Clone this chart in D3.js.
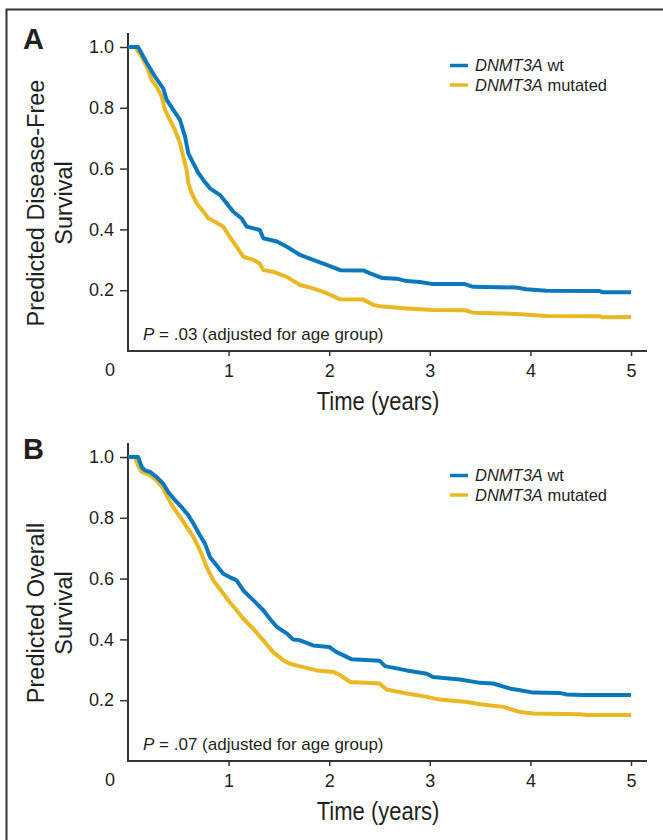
<!DOCTYPE html>
<html>
<head>
<meta charset="utf-8">
<script src="https://cdn.jsdelivr.net/npm/d3@7"></script>
<style>
  body { margin: 0; background: #fff; }
  svg text { font-family: "Liberation Sans", Arial, Helvetica, sans-serif; fill: #231f20; }
</style>
</head>
<body>
<script>
// time (years) / predicted survival
const dfsWtTime = [0, 0.10, 0.19, 0.27, 0.35, 0.385, 0.45, 0.517, 0.567, 0.60, 0.65, 0.70, 0.75, 0.815, 0.915, 0.98, 1.047, 1.13, 1.18, 1.31, 1.345, 1.48, 1.58, 1.71, 1.84, 1.975, 2.11, 2.34, 2.40, 2.53, 2.67, 2.77, 2.90, 3.03, 3.35, 3.43, 3.86, 3.96, 4.16, 4.69, 4.72, 5.0];
const dfsWtSurv = [1.0, 1.0, 0.946, 0.902, 0.864, 0.826, 0.793, 0.76, 0.705, 0.65, 0.617, 0.585, 0.562, 0.535, 0.513, 0.486, 0.458, 0.436, 0.409, 0.398, 0.371, 0.36, 0.343, 0.316, 0.30, 0.283, 0.266, 0.265, 0.256, 0.24, 0.238, 0.23, 0.227, 0.22, 0.22, 0.211, 0.209, 0.203, 0.198, 0.197, 0.193, 0.193];

const dfsMutTime = [0, 0.07, 0.136, 0.20, 0.235, 0.285, 0.335, 0.368, 0.417, 0.467, 0.517, 0.55, 0.583, 0.60, 0.633, 0.683, 0.75, 0.80, 0.865, 0.947, 1.01, 1.08, 1.146, 1.245, 1.31, 1.345, 1.44, 1.58, 1.71, 1.84, 1.975, 2.11, 2.34, 2.44, 2.53, 2.77, 3.03, 3.35, 3.43, 3.86, 4.16, 4.69, 4.72, 5.0];
const dfsMutSurv = [1.0, 1.0, 0.968, 0.925, 0.891, 0.869, 0.837, 0.793, 0.76, 0.727, 0.683, 0.639, 0.595, 0.552, 0.519, 0.486, 0.458, 0.436, 0.425, 0.409, 0.376, 0.343, 0.31, 0.30, 0.288, 0.266, 0.261, 0.244, 0.217, 0.206, 0.19, 0.17, 0.169, 0.151, 0.146, 0.14, 0.135, 0.134, 0.126, 0.122, 0.115, 0.114, 0.111, 0.112];

const osWtTime = [0, 0.10, 0.136, 0.169, 0.219, 0.285, 0.351, 0.40, 0.467, 0.533, 0.60, 0.65, 0.716, 0.765, 0.815, 0.88, 0.947, 1.01, 1.08, 1.146, 1.245, 1.345, 1.41, 1.48, 1.58, 1.64, 1.71, 1.84, 2.0, 2.07, 2.22, 2.50, 2.555, 2.77, 2.97, 3.03, 3.30, 3.50, 3.63, 3.80, 3.90, 4.03, 4.29, 4.36, 4.53, 5.0];
const osWtSurv = [1.0, 1.0, 0.967, 0.956, 0.951, 0.934, 0.912, 0.885, 0.858, 0.835, 0.808, 0.781, 0.742, 0.715, 0.671, 0.644, 0.616, 0.605, 0.594, 0.561, 0.529, 0.496, 0.468, 0.441, 0.419, 0.40, 0.397, 0.38, 0.375, 0.359, 0.335, 0.33, 0.312, 0.298, 0.287, 0.276, 0.268, 0.257, 0.255, 0.238, 0.233, 0.225, 0.224, 0.219, 0.217, 0.217];

const osMutTime = [0, 0.07, 0.10, 0.136, 0.219, 0.285, 0.351, 0.40, 0.45, 0.517, 0.583, 0.65, 0.716, 0.782, 0.848, 0.947, 1.01, 1.08, 1.146, 1.245, 1.345, 1.44, 1.545, 1.61, 1.74, 1.876, 2.04, 2.11, 2.21, 2.50, 2.57, 2.77, 2.97, 3.10, 3.37, 3.50, 3.73, 3.90, 4.03, 4.49, 4.56, 5.0];
const osMutSurv = [1.0, 1.0, 0.973, 0.951, 0.94, 0.923, 0.896, 0.863, 0.835, 0.803, 0.77, 0.737, 0.693, 0.638, 0.594, 0.551, 0.523, 0.496, 0.468, 0.435, 0.397, 0.359, 0.331, 0.32, 0.309, 0.298, 0.293, 0.282, 0.26, 0.255, 0.235, 0.222, 0.211, 0.202, 0.194, 0.187, 0.178, 0.161, 0.156, 0.154, 0.151, 0.151];

const seriesNames = ["wt", "mutated"];
const seriesColors = ["#0b78be", "#e9b822"];
const xTicks = [1, 2, 3, 4, 5];
const yTicks = [0.2, 0.4, 0.6, 0.8, 1.0];

const panels = [
    { letter: "A", title: ["Predicted Disease-Free", "Survival"], pText: ".03 (adjusted for age group)",
      wt: [dfsWtTime, dfsWtSurv], mut: [dfsMutTime, dfsMutSurv] },
    { letter: "B", title: ["Predicted Overall", "Survival"], pText: ".07 (adjusted for age group)",
      wt: [osWtTime, osWtSurv], mut: [osMutTime, osMutSurv] }
];

const svg = d3.select("body").append("svg")
    .attr("width", 663)
    .attr("height", 840);

// outer frame (only top and left edge show)
svg.append("path")
    .attr("d", "M6.5,840 L6.5,9.5 L663,9.5")
    .attr("fill", "none")
    .attr("stroke", "#333")
    .attr("stroke-width", 2);

const x = d3.scaleLinear().domain([0, 5]).range([128, 631]);
const y = d3.scaleLinear().domain([0, 1]).range([351, 47]);

const line = d3.line()
    .x(d => x(d[0]))
    .y(d => y(d[1]));

function pairs(s) {
    return s[0].map((t, i) => [t, s[1][i]]);
}

function drawPanel(p, offset) {
    const g = svg.append("g").attr("transform", `translate(0,${offset})`);

    g.append("text")
        .attr("x", 23).attr("y", 49)
        .style("font-size", "29px").style("font-weight", "bold")
        .text(p.letter);

    // y axis
    const ya = g.append("g")
        .attr("transform", `translate(${x(0)},0)`)
        .call(d3.axisLeft(y).tickValues(yTicks).tickFormat(d3.format(".1f")).tickSize(8).tickPadding(6));
    ya.select(".domain").remove();
    ya.selectAll("line").attr("stroke", "#333").attr("stroke-width", 1.5);
    ya.selectAll("text").style("font-size", "18px").attr("fill", "#231f20");

    // x axis
    const xa = g.append("g")
        .attr("transform", `translate(0,${y(0)})`)
        .call(d3.axisBottom(x).tickValues(xTicks).tickFormat(d3.format("d")).tickSize(5).tickPadding(8));
    xa.select(".domain").remove();
    xa.selectAll("line").attr("stroke", "#333").attr("stroke-width", 1.5);
    xa.selectAll("text").style("font-size", "18px").attr("fill", "#231f20");

    g.append("text")
        .attr("x", x(0) - 18).attr("y", y(0) + 25)
        .attr("text-anchor", "middle")
        .style("font-size", "18px")
        .text("0");

    // axis lines
    g.append("line")
        .attr("x1", x(0)).attr("x2", x(0))
        .attr("y1", y(1) - 14).attr("y2", y(0) + 1)
        .attr("stroke", "#333").attr("stroke-width", 2);
    g.append("line")
        .attr("x1", x(0) - 1).attr("x2", x(5) + 16)
        .attr("y1", y(0)).attr("y2", y(0))
        .attr("stroke", "#333").attr("stroke-width", 2);

    // axis titles
    p.title.forEach((t, i) => {
        g.append("text")
            .attr("transform", `translate(${43.5 + i * 28},203) rotate(-90)`)
            .attr("text-anchor", "middle")
            .style("font-size", "23.5px")
            .text(t);
    });
    // condensed look of the original title
    g.append("text")
        .attr("transform", "translate(378,410) scale(0.88,1)")
        .attr("text-anchor", "middle")
        .style("font-size", "25px")
        .text("Time (years)");

    // curves
    [p.mut, p.wt].forEach((s, i) => {
        g.append("path")
            .datum(pairs(s))
            .attr("d", line)
            .attr("fill", "none")
            .attr("stroke", seriesColors[1 - i])
            .attr("stroke-width", 4)
            .attr("stroke-linejoin", "round");
    });

    // legend
    seriesNames.forEach((n, i) => {
        const ly = 65.5 + i * 19.5;
        g.append("line")
            .attr("x1", 450).attr("x2", 468)
            .attr("y1", ly).attr("y2", ly)
            .attr("stroke", seriesColors[i]).attr("stroke-width", 3.5);
        const t = g.append("text")
            .attr("x", 475).attr("y", ly + 5.5)
            .style("font-size", "16.5px");
        t.append("tspan").style("font-style", "italic").text("DNMT3A");
        t.append("tspan").text(" " + n);
    });

    // p value
    const pt = g.append("text")
        .attr("x", 143).attr("y", 340)
        .style("font-size", "17px");
    pt.append("tspan").style("font-style", "italic").text("P");
    pt.append("tspan").text(" = " + p.pText);
}

panels.forEach((p, i) => drawPanel(p, i * 410));
</script>
</body>
</html>
